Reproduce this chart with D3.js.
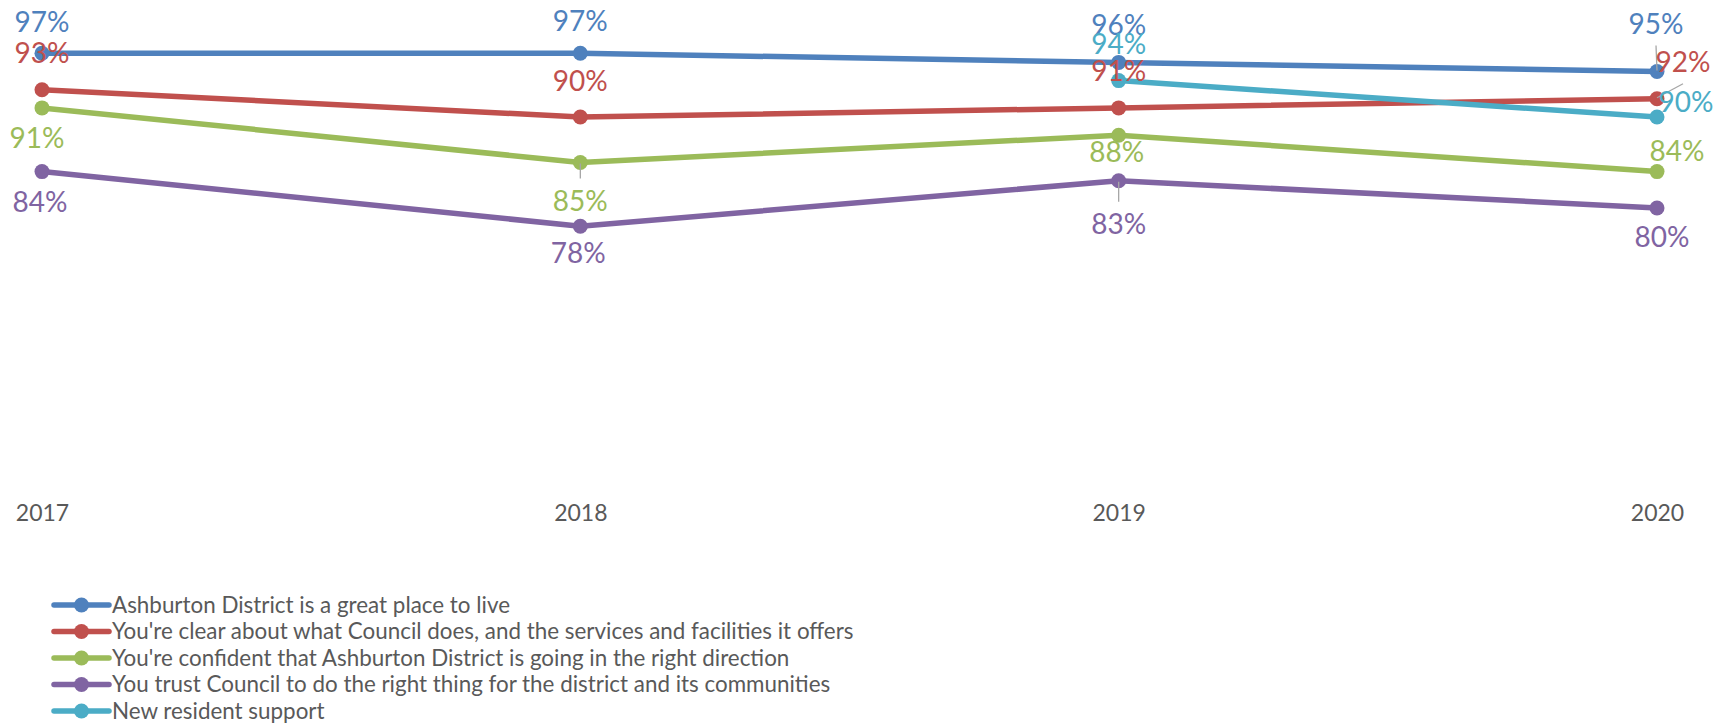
<!DOCTYPE html>
<html><head><meta charset="utf-8">
<script src="https://cdn.jsdelivr.net/npm/d3@7"></script>
<style>html,body{margin:0;padding:0;background:#fff;}svg{display:block;}</style>
</head><body>
<svg id="chart" width="1730" height="723"></svg>
<script>
const years = ["2017", "2018", "2019", "2020"];
const seriesNames = [
  "Ashburton District is a great place to live",
  "You're clear about what Council does, and the services and facilities it offers",
  "You're confident that Ashburton District is going in the right direction",
  "You trust Council to do the right thing for the district and its communities",
  "New resident support"
];
const greatPlace = [97, 97, 96, 95];
const clearAbout = [93, 90, 91, 92];
const confident = [91, 85, 88, 84];
const trustCouncil = [84, 78, 83, 80];
const newResident = [null, null, 94, 90];
const colors = ["#4F81BD", "#C0504D", "#9BBB59", "#8064A2", "#4BACC6"];

// label placement (offset of label centre from its point), layout only
const labelOffsets = [
  [[0,-31],[0,-32],[0,-37],[-1,-48]],
  [[0,-37],[0,-36],[0,-37],[26,-37]],
  [[-5,30],[0,38],[-2,17],[20,-21]],
  [[-2,30],[-2,27],[0,43],[5,29]],
  [null,null,[0,-37],[29,-15]]
];
const leaders = [[0,3],[1,3],[2,1],[3,2]];

const allSeries = [greatPlace, clearAbout, confident, trustCouncil, newResident];
const FONT = "Lato, 'Open Sans', sans-serif";

const svg = d3.select("#chart");
const x = d3.scalePoint().domain(years).range([42, 1657]);
const y = d3.scaleLinear().domain([50, 100]).range([481, 26]);

// x axis labels
const xAxis = d3.axisBottom(x).tickSize(0).tickPadding(0);
const gx = svg.append("g").attr("transform", "translate(0,505)").call(xAxis);
gx.select(".domain").remove();
gx.selectAll("text").attr("font-family", FONT).attr("font-size", 23).attr("fill", "#595959").attr("dy", "0.71em");

const line = d3.line().defined(d => d.v != null).x(d => x(d.year)).y(d => y(d.v));

allSeries.forEach((vals, i) => {
  const pts = years.map((yr, j) => ({year: yr, v: vals[j], j}));
  svg.append("path").datum(pts).attr("d", line).attr("fill", "none")
    .attr("stroke", colors[i]).attr("stroke-width", 5.5).attr("stroke-linejoin", "round");
  svg.append("g").selectAll("circle").data(pts.filter(d => d.v != null)).join("circle")
    .attr("cx", d => x(d.year)).attr("cy", d => y(d.v)).attr("r", 7.5).attr("fill", colors[i]);
});

// leader lines
leaders.forEach(([i, j]) => {
  const px = x(years[j]), py = y(allSeries[i][j]);
  const [dx, dy] = labelOffsets[i][j];
  const lx = px + dx, ly = py + dy + (dy < 0 ? 22 : -22);
  svg.append("line").attr("x1", px).attr("y1", py + (dy < 0 ? -1 : 1)).attr("x2", lx).attr("y2", ly)
    .attr("stroke", "#A6A6A6").attr("stroke-width", 1.3);
});

// data labels
allSeries.forEach((vals, i) => {
  const pts = years.map((yr, j) => ({year: yr, v: vals[j], j})).filter(d => d.v != null);
  svg.append("g").selectAll("text").data(pts).join("text")
    .attr("x", d => x(d.year) + labelOffsets[i][d.j][0])
    .attr("y", d => y(d.v) + labelOffsets[i][d.j][1])
    .attr("dy", "0.36em").attr("text-anchor", "middle")
    .attr("font-family", FONT).attr("font-size", 28).attr("fill", colors[i])
    .text(d => d3.format(".0f")(d.v) + "%");
});

// legend
const leg = svg.append("g").attr("transform", "translate(54,605)");
seriesNames.forEach((name, i) => {
  const g = leg.append("g").attr("transform", `translate(0,${i * 26.5})`);
  g.append("line").attr("x1", 0).attr("x2", 55).attr("stroke", colors[i]).attr("stroke-width", 5.5).attr("stroke-linecap", "round");
  g.append("circle").attr("cx", 27.5).attr("r", 7.5).attr("fill", colors[i]);
  g.append("text").attr("x", 58).attr("dy", "0.35em").attr("font-family", FONT).attr("font-size", 22.4)
    .attr("fill", "#595959").text(name);
});
</script>
</body></html>
